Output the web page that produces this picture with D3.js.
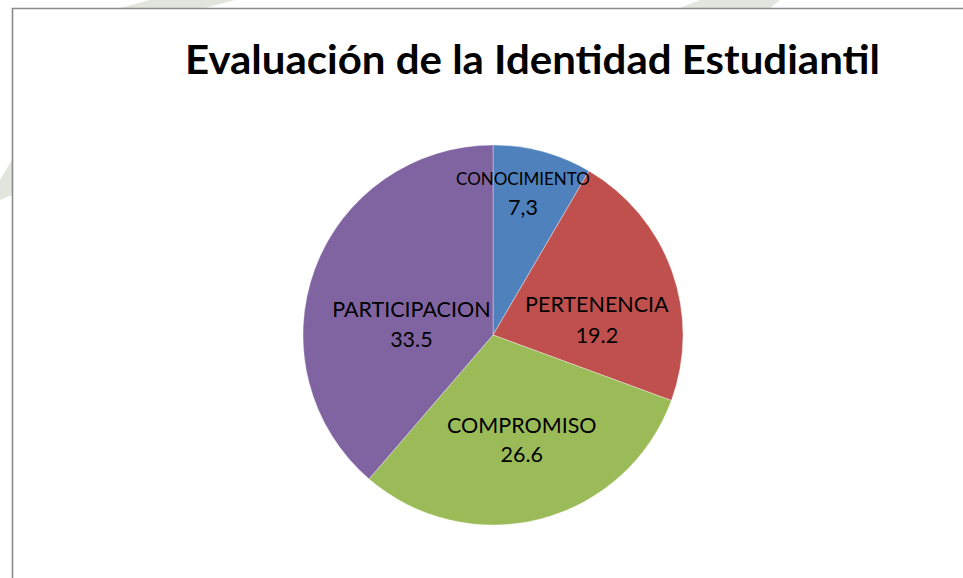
<!DOCTYPE html>
<html>
<head>
<meta charset="utf-8">
<script src="https://cdn.jsdelivr.net/npm/d3@7"></script>
<style>
    html, body { margin: 0; padding: 0; background: #fff; }
    svg { display: block; }
    text { font-family: Lato, "Open Sans", sans-serif; fill: #000; }
</style>
</head>
<body>
<div id="chart"></div>
<script>
// DATA
const title = 'Evaluación de la Identidad Estudiantil';
const categories = ['CONOCIMIENTO', 'PERTENENCIA', 'COMPROMISO', 'PARTICIPACION'];
const values = [7.3, 19.2, 26.6, 33.5];
const valueLabels = ['7,3', '19.2', '26.6', '33.5'];
const colors = ['#4F81BD', '#C0504D', '#9BBB59', '#8064A2'];

// label placement (angle in degrees from 12 o'clock, distance as share of radius)
const labelAngle = [11.3, 77.5, 163.7, 282.5];
const labelDist = [0.805, 0.56, 0.54, 0.44];
const labelSize = [17, 21.5, 21.5, 21.5];
const valueGap = [30, 31, 29, 30];

const width = 963;
const height = 578;

function render() {
    const cx = 493;
    const cy = 335;
    const radius = 190;

    const svg = d3.select('#chart').append('svg')
        .attr('width', width)
        .attr('height', height);

    // faint watermark traces behind the frame
    const wm = svg.append('g').attr('fill', '#dfe3da').attr('opacity', 0.9);
    wm.append('path').attr('d', 'M120 8 L150 0 L235 0 L205 8 Z');
    wm.append('path').attr('d', 'M680 8 L700 0 L780 0 L770 8 Z');
    wm.append('path').attr('d', 'M0 180 L12 160 L12 195 L0 200 Z');

    // chart frame
    svg.append('path')
        .attr('d', `M12.5 ${height + 2} V8.5 H${width + 2}`)
        .attr('fill', 'none')
        .attr('stroke', '#8a8a8a')
        .attr('stroke-width', 1.6);

    svg.append('text')
        .attr('x', 532.5)
        .attr('y', 74)
        .attr('text-anchor', 'middle')
        .attr('textLength', 695)
        .attr('lengthAdjust', 'spacingAndGlyphs')
        .style('font-size', '40px')
        .style('font-weight', 700)
        .text(title);

    const data = categories.map((c, i) => ({ name: c, value: values[i], label: valueLabels[i] }));

    const pie = d3.pie().sort(null).value(d => d.value);
    const arc = d3.arc().innerRadius(0).outerRadius(radius);

    const g = svg.append('g')
        .attr('transform', `translate(${cx},${cy})`);

    g.selectAll('path.slice')
        .data(pie(data))
        .enter()
        .append('path')
        .attr('class', 'slice')
        .attr('d', arc)
        .attr('fill', (d, i) => colors[i])
        .attr('stroke', '#ffffff')
        .attr('stroke-opacity', 0.6)
        .attr('stroke-width', 0.6);

    const labels = g.selectAll('g.lbl')
        .data(data)
        .enter()
        .append('g')
        .attr('class', 'lbl')
        .attr('transform', (d, i) => {
            const a = labelAngle[i] * Math.PI / 180;
            const r = labelDist[i] * radius;
            return `translate(${r * Math.sin(a)},${-r * Math.cos(a)})`;
        });

    labels.append('text')
        .attr('text-anchor', 'middle')
        .style('font-size', (d, i) => labelSize[i] + 'px')
        .text(d => d.name);

    labels.append('text')
        .attr('text-anchor', 'middle')
        .attr('y', (d, i) => valueGap[i])
        .style('font-size', '21.5px')
        .text(d => d.label);
}

window.onload = render;
</script>
</body>
</html>
